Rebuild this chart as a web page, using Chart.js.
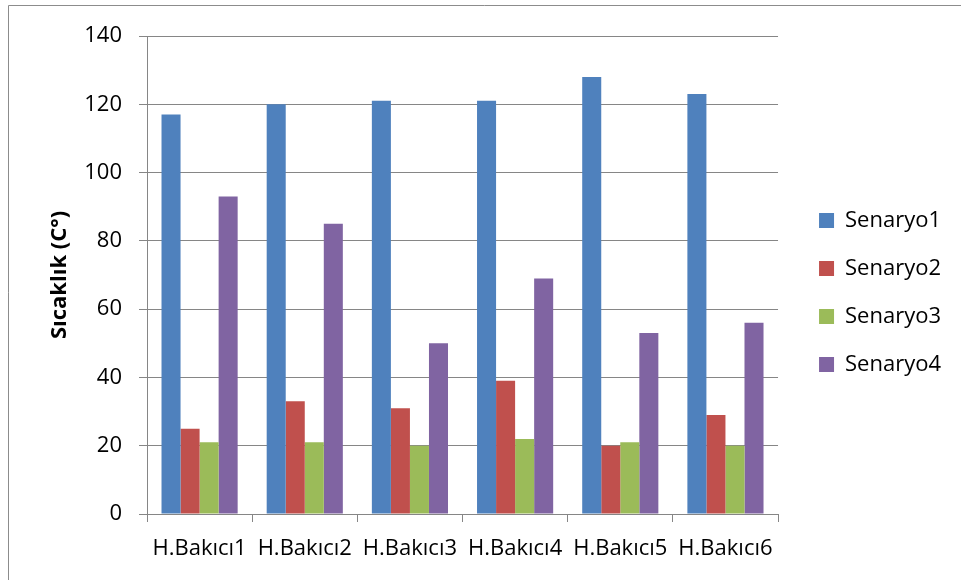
<!DOCTYPE html>
<html>
<head>
<meta charset="utf-8">
<title>Sıcaklık</title>
<script src="https://cdn.jsdelivr.net/npm/chart.js@4/dist/chart.umd.min.js"></script>
<style>
  html, body { margin: 0; padding: 0; background: #ffffff; }
  #wrap { width: 961px; height: 580px; }
</style>
</head>
<body>
<div id="wrap"><canvas id="c" width="961" height="580"></canvas></div>
<script>
// Categories and series values
const categories = ['H.Bakıcı1', 'H.Bakıcı2', 'H.Bakıcı3', 'H.Bakıcı4', 'H.Bakıcı5', 'H.Bakıcı6'];
const senaryo1 = [117, 120, 121, 121, 128, 123];
const senaryo2 = [25, 33, 31, 39, 20, 29];
const senaryo3 = [21, 21, 20, 22, 21, 20];
const senaryo4 = [93, 85, 50, 69, 53, 56];
const seriesNames = ['Senaryo1', 'Senaryo2', 'Senaryo3', 'Senaryo4'];
const yTitle = 'Sıcaklık (C°)';

const colors = ['#4F81BD', '#C0504D', '#9BBB59', '#8064A2'];
const gridColor = '#868686';
const FONT = "'Open Sans', 'Liberation Sans', sans-serif";

// Thin frame around the whole chart
const framePlugin = {
  id: 'frame',
  beforeDraw(chart) {
    const ctx = chart.ctx;
    ctx.save();
    ctx.strokeStyle = '#8c8c8c';
    ctx.lineWidth = 1;
    ctx.beginPath();
    ctx.moveTo(8.5, chart.height);
    ctx.lineTo(8.5, 5.5);
    ctx.lineTo(chart.width, 5.5);
    ctx.stroke();
    ctx.restore();
  }
};

const series = [senaryo1, senaryo2, senaryo3, senaryo4];

new Chart(document.getElementById('c'), {
  type: 'bar',
  data: {
    labels: categories,
    datasets: series.map((vals, i) => ({
      label: seriesNames[i],
      data: vals,
      backgroundColor: colors[i],
      borderWidth: 0,
      barPercentage: 1.0,
      categoryPercentage: 0.724
    }))
  },
  options: {
    responsive: false,
    animation: false,
    devicePixelRatio: 1,
    layout: { padding: { top: 5, right: 10, bottom: 0, left: 0 } },
    plugins: {
      tooltip: { enabled: false },
      legend: {
        position: 'right',
        align: 'center',
        labels: {
          boxWidth: 15,
          boxHeight: 15,
          padding: 26,
          color: '#000000',
          font: { family: FONT, size: 22 }
        }
      }
    },
    scales: {
      x: {
        type: 'category',
        position: 'bottom',
        afterFit(s) { s.height = 66; },
        grid: {
          offset: true,
          drawOnChartArea: false,
          drawTicks: true,
          tickLength: 8,
          color: gridColor,
          lineWidth: 1
        },
        border: { display: true, color: gridColor, width: 1 },
        ticks: {
          autoSkip: false,
          maxRotation: 0,
          minRotation: 0,
          padding: 14,
          color: '#000000',
          font: { family: FONT, size: 22 }
        }
      },
      y: {
        type: 'linear',
        position: 'left',
        min: 0,
        max: 140,
        afterFit(s) { s.width = 147; },
        grid: {
          drawTicks: true,
          tickLength: 8,
          color: gridColor,
          lineWidth: 1
        },
        border: { display: true, color: gridColor, width: 1 },
        ticks: {
          stepSize: 20,
          padding: 17,
          color: '#000000',
          font: { family: FONT, size: 22 }
        },
        title: {
          display: true,
          text: yTitle,
          color: '#000000',
          padding: { top: 47, bottom: 0 },
          font: { family: FONT, size: 22, weight: 'bold' }
        }
      },
      // empty spacer axes that reserve room above and to the right of the plot
      gapTop: {
        type: 'linear',
        axis: 'x',
        position: 'top',
        display: true,
        afterFit(s) { s.height = 31; },
        grid: { display: false, drawTicks: false },
        border: { display: false },
        ticks: { display: false }
      },
      gapRight: {
        type: 'linear',
        axis: 'y',
        position: 'right',
        display: true,
        afterFit(s) { s.width = 15; },
        grid: { display: false, drawTicks: false },
        border: { display: false },
        ticks: { display: false }
      }
    }
  },
  plugins: [framePlugin]
});
</script>
</body>
</html>
